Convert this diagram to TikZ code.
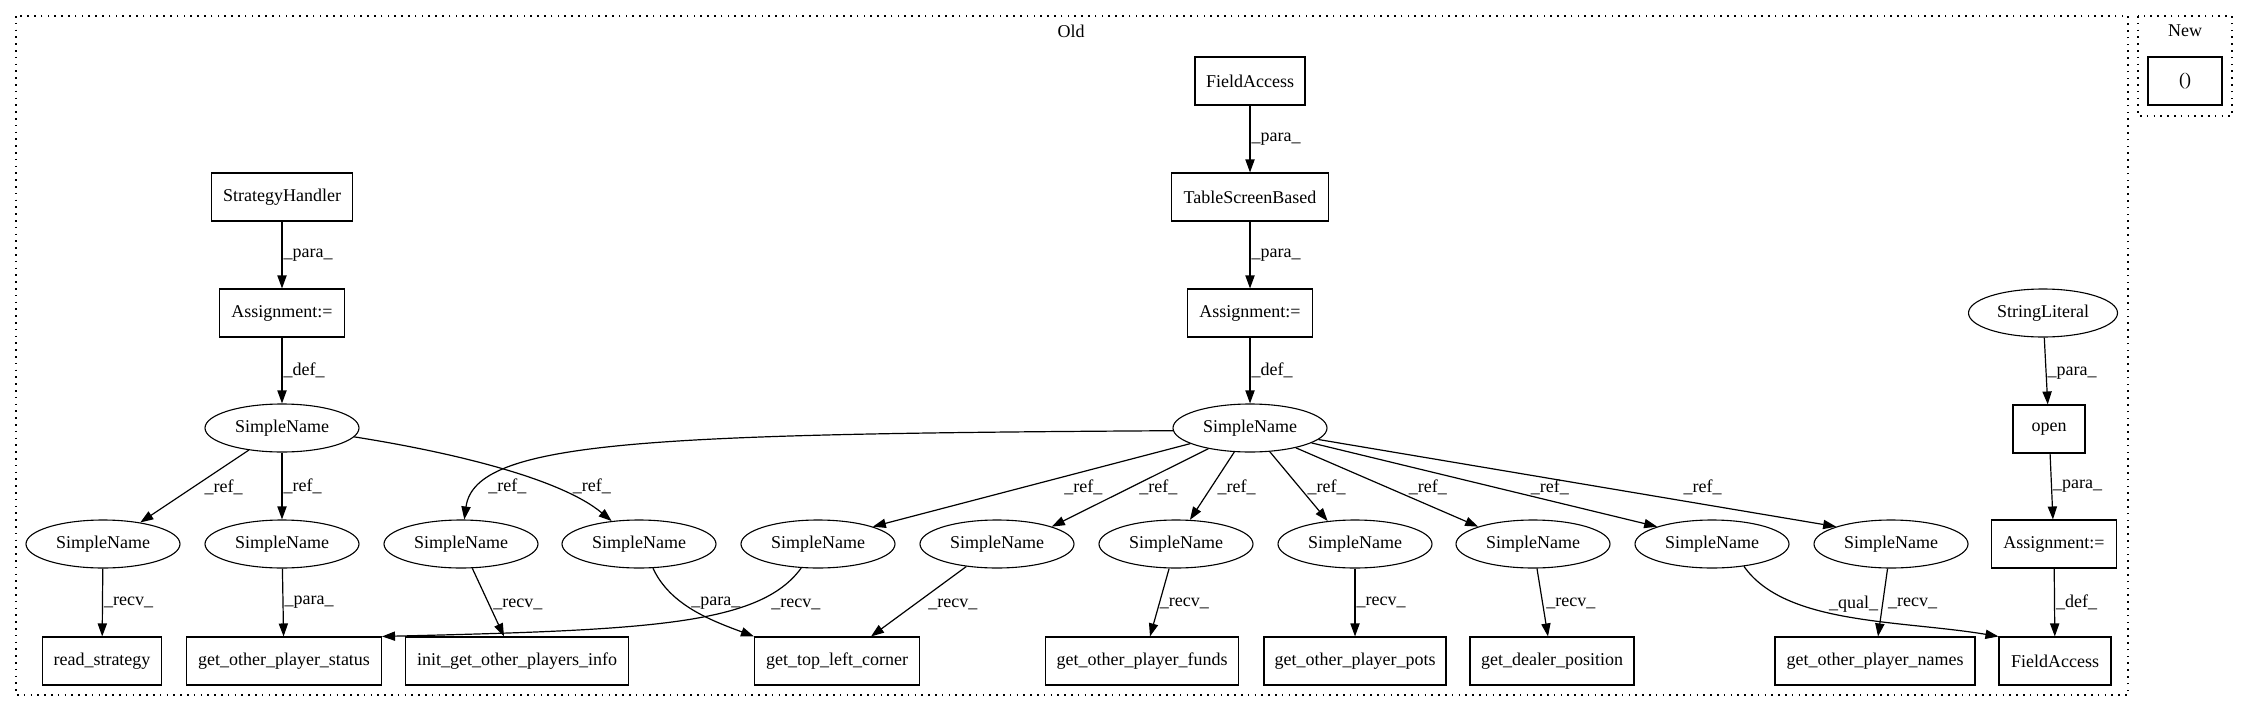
\documentclass[tikz,border=0pt]{standalone}
\usepackage{fontspec}
\setmainfont{Liberation Serif}
\usepackage{tikz}
\usetikzlibrary{arrows.meta,shapes.geometric}
\tikzset{every picture/.style={line width=0.6pt}}
\tikzset{
  box/.style={draw, rectangle, line width=0.55pt, minimum height=24pt, inner sep=0pt, font=\fontsize{9}{10}\selectfont},
  oval/.style={draw, ellipse, line width=0.55pt, minimum width=77pt, minimum height=24pt, inner sep=0pt, font=\fontsize{9}{10}\selectfont},
  arr/.style={-{Triangle[length=6.5pt,width=4.6pt]}},
  lab/.style={anchor=west, inner sep=0pt, font=\fontsize{9}{10}\selectfont},
  cluster/.style={draw, line width=0.8pt, dash pattern=on 0.8pt off 2.6pt}
}

\begin{document}
\begin{tikzpicture}[x=0.5pt,y=0.5pt,yscale=-1,xscale=1]
\useasboundingbox (0,0) rectangle (2248,712);

%Shape: Clusters
\draw [cluster] (16,16) rectangle (2128,695) ;
\draw [cluster] (2138,16) rectangle (2232,116) ;
% Text Node
\node [font=\fontsize{9}{10}\selectfont] (old) at (1071,31) {Old};
% Text Node
\node [font=\fontsize{9}{10}\selectfont] (new) at (2185,31) {New};
\node [box, minimum width=37pt] (paren) at (2185,81) {()};

%Shape: top chains
\node [box, minimum width=55pt] (fat) at (1250,81) {FieldAccess};
\node [box, minimum width=78.5pt] (tsb) at (1250,197) {TableScreenBased};
\node [box, minimum width=62.5pt] (asgm) at (1250,313) {Assignment:=};
\node [oval] (snm) at (1250,428) {SimpleName};
\node [box, minimum width=70.5pt] (strh) at (282,197) {StrategyHandler};
\node [box, minimum width=62.5pt] (asgl) at (282,313) {Assignment:=};
\node [oval] (snl) at (282,428) {SimpleName};
\node [oval, minimum width=74.5pt] (strl) at (2043,313) {StringLiteral};
\node [box, minimum width=36pt] (open) at (2049,429) {open};
\node [box, minimum width=62.5pt] (asgr) at (2054,544) {Assignment:=};

%Shape: SimpleName row
\node [oval] (sn1) at (103,544) {SimpleName};
\node [oval] (sn2) at (282,544) {SimpleName};
\node [oval] (sn3) at (461,544) {SimpleName};
\node [oval] (sn4) at (639,544) {SimpleName};
\node [oval] (sn5) at (818,544) {SimpleName};
\node [oval] (sn6) at (997,544) {SimpleName};
\node [oval] (sn7) at (1176,544) {SimpleName};
\node [oval] (sn8) at (1355,544) {SimpleName};
\node [oval] (sn9) at (1533,544) {SimpleName};
\node [oval] (sn10) at (1712,544) {SimpleName};
\node [oval] (sn11) at (1891,544) {SimpleName};

%Shape: bottom row
\node [box, minimum width=59.5pt] (rs) at (102,661) {read\_strategy};
\node [box, minimum width=97.5pt] (gops) at (284,661) {get\_other\_player\_status};
\node [box, minimum width=111.5pt] (init) at (517,661) {init\_get\_other\_players\_info};
\node [box, minimum width=82.5pt] (gtlc) at (837,661) {get\_top\_left\_corner};
\node [box, minimum width=96.5pt] (gopf) at (1142,661) {get\_other\_player\_funds};
\node [box, minimum width=91pt] (gopp) at (1355,661) {get\_other\_player\_pots};
\node [box, minimum width=82pt] (gdp) at (1552,661) {get\_dealer\_position};
\node [box, minimum width=100pt] (gopn) at (1875,661) {get\_other\_player\_names};
\node [box, minimum width=56pt] (fab) at (2055,661) {FieldAccess};

%Straight Lines
\draw [arr] (fat) -- node [lab, xshift=0.5pt] {\_para\_} (tsb);
\draw [arr] (tsb) -- node [lab, xshift=0.5pt] {\_para\_} (asgm);
\draw [arr] (asgm) -- node [lab, xshift=0.5pt] {\_def\_} (snm);
\draw [arr] (strh) -- node [lab, xshift=0.5pt] {\_para\_} (asgl);
\draw [arr] (asgl) -- node [lab, xshift=0.5pt] {\_def\_} (snl);
\draw [arr] (strl) -- node [lab, pos=0.53, xshift=0.5pt] {\_para\_} (open);
\draw [arr] (open) -- node [lab, xshift=0.5pt] {\_para\_} (asgr);
\draw [arr] (asgr) -- node [lab, xshift=0.5pt] {\_def\_} (fab);

%Straight Lines
\draw [arr] (snl) -- node [lab, pos=0.51, xshift=5.3pt] {\_ref\_} (sn1.30);
\draw [arr] (snl) -- node [lab, xshift=0.5pt] {\_ref\_} (sn2);
\draw [arr] (snm) -- node [lab, pos=0.521, xshift=19.5pt] {\_ref\_} (sn5.north east);
\draw [arr] (snm) -- node [lab, pos=0.492, xshift=3.7pt] {\_ref\_} (sn6.north east);
\draw [arr] (snm) -- node [lab, pos=0.515, xshift=2.8pt] {\_ref\_} (sn7.60);
\draw [arr] (snm) -- node [lab, pos=0.509, xshift=3.9pt] {\_ref\_} (sn8.140);
\draw [arr] (snm) -- node [lab, pos=0.497, xshift=10.9pt] {\_ref\_} (sn9.north west);
\draw [arr] (snm) -- node [lab, pos=0.525, xshift=18.6pt] {\_ref\_} (sn10.north west);
\draw [arr] (snm) -- node [lab, pos=0.543, xshift=41.75pt] {\_ref\_} (sn11.north west);
%Curve Lines
\draw [arr] (snl.353) .. controls (450,452) and (560,478) .. (sn4.140) node [lab, pos=0.7, xshift=10.5pt] {\_ref\_};
\draw [arr] (snm.182) .. controls (650,434) and (475,440) .. (sn3) node [lab, pos=0.84, xshift=2.5pt] {\_ref\_};

%Straight Lines
\draw [arr] (sn1) -- node [lab, xshift=0.5pt] {\_recv\_} (rs);
\draw [arr] (sn2) -- node [lab, xshift=0.5pt] {\_para\_} (gops);
\draw [arr] (sn3) -- node [lab, pos=0.523, xshift=1.9pt] {\_recv\_} ([xshift=-6.5pt]init.north);
\draw [arr] (sn6) -- node [lab, pos=0.535, xshift=6.2pt] {\_recv\_} ([xshift=17pt]gtlc.north);
\draw [arr] (sn7) -- node [lab, pos=0.52, xshift=0pt] {\_recv\_} ([xshift=4pt]gopf.north);
\draw [arr] (sn8) -- node [lab, xshift=0.5pt] {\_recv\_} (gopp);
\draw [arr] (sn9) -- node [lab, pos=0.52, xshift=1.5pt] {\_recv\_} ([xshift=-2pt]gdp.north);
\draw [arr] (sn11) -- node [lab, pos=0.52, xshift=2.5pt] {\_recv\_} ([xshift=1.5pt]gopn.north);
%Curve Lines
\draw [arr] (sn4.300) .. controls (670,605) and (710,620) .. (gtlc.north west) node [lab, pos=0.4, xshift=3.75pt] {\_para\_};
\draw [arr] (sn5.235) .. controls (760,625) and (650,630) .. (gops.north east) node [lab, pos=0.28, xshift=11.2pt] {\_recv\_};
\draw [arr] (sn10.325) .. controls (1785,625) and (1900,620) .. (fab.north west) node [lab, pos=0.3, xshift=15pt] {\_qual\_};

\end{tikzpicture}
\end{document}
